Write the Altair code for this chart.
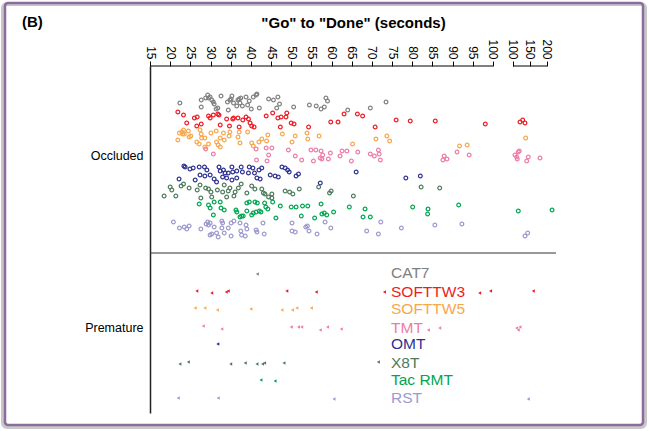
import altair as alt
import pandas as pd

# ---------------- data ----------------
categories = ["CAT7", "SOFTTW3", "SOFTTW5", "TMT", "OMT", "X8T", "Tac RMT", "RST"]
colors = ["#808080", "#ed1c24", "#f9a64c", "#ec7ca8", "#2e3192", "#4e7b5c", "#00a651", "#9d99cf"]

# vertical lane centres of each category (0 = top of plot, 347 = bottom)
occ_lane = [35, 52, 72, 86, 107, 124, 141, 162]
pre_lane = [207, 226, 243, 262, 278, 297, 314, 332]
separator_lane = 187
section_labels = ["Occluded", "Premature"]
section_label_lane = [89, 261]

# (seconds, vertical jitter) for "Occluded" trials
occ_cat7 = [(22.4,2),(27.7,-1),(27.7,6),(28.8,-3),(29.3,-6),(29.5,-3),(29.9,-4),(30.3,-1),(30.7,1),(31.4,8),
            (31.8,7),(32.6,-5),(34.2,1),(34.4,9),(34.8,-1),(35.3,-5),(35.7,2),(36.5,5),(36.8,-1),(37.1,-2),
            (37.3,2),(37.9,5),(38.8,-4),(39.2,4),(40.1,8),(40.6,-4),(41.3,-6),(42.1,7),(44.4,-2),(45.6,-1),
            (46.4,7),(46.7,-4),(47.1,3),(50.6,6),(54.5,4),(56.2,5),(57.4,8),(58.2,6),(58.6,-3),(59.0,0),
            (64.0,9),(69.6,7),(73.5,1),(30.9,3),(35.1,-2),(37.5,-3),(39.6,0),(41.5,-7)]
occ_softtw3 = [(21.9,-6),(23.3,-3),(24.1,5),(26.0,0),(26.7,-1),(26.6,8),(27.7,6),(29.5,-2),(29.9,0),(30.7,-3),
               (31.8,-4),(32.1,-3),(32.4,7),(34.0,1),(34.7,8),(35.5,1),(35.7,0),(36.8,0),(37.1,9),(38.0,2),
               (38.8,-1),(39.4,1),(39.8,5),(40.2,8),(40.8,9),(43.8,-2),(45.4,-5),(46.7,0),(47.3,9),(47.5,-1),
               (48.7,-1),(48.9,-5),(50.0,5),(50.7,6),(54.3,9),(59.8,4),(61.6,4),(63.1,-4),(66.4,-4),(67.7,-2),
               (70.8,9),(76.0,2),(79.5,3),(85.7,3),(98.1,6),(120.6,4),(128.5,2),(135.3,5)]
occ_softtw5 = [(21.9,2),(22.3,-5),(22.9,-6),(23.3,-8),(23.1,-4),(23.5,-4),(24.5,-7),(25.1,-2),(24.7,-1),(26.6,4),
               (27.4,-8),(27.7,-4),(27.2,6),(27.8,0),(28.6,0),(28.6,9),(29.5,6),(30.1,-5),(31.4,-7),(31.5,4),
               (31.9,7),(32.4,0),(32.4,9),(33.4,2),(33.2,-5),(34.6,-2),(34.8,-6),(36.8,-1),(37.1,-6),(37.3,5),
               (39.2,-6),(40.2,5),(40.6,8),(42.0,4),(42.7,1),(44.2,-3),(43.9,3),(47.8,-4),(50.2,4),(51.0,-2),
               (53.9,-5),(54.1,1),(56.9,-2),(65.2,6),(71.0,1),(73.7,-2),(74.4,3),(91.7,8),(93.6,7),(137.4,0)]
occ_tmt = [(28.8,-3),(30.7,2),(41.3,-3),(41.4,8),(43.8,-4),(45.2,-4),(44.4,3),(44.0,9),(49.3,-2),(51.0,4),
           (52.6,8),(54.9,-2),(56.1,-2),(57.4,-1),(57.8,3),(57.2,6),(57.6,7),(59.2,7),(59.7,1),(55.5,9),
           (62.6,-1),(63.8,-1),(62.1,4),(64.9,9),(66.5,0),(69.6,2),(70.6,4),(71.6,-2),(71.8,2),(72.1,8),
           (87.9,4),(88.6,7),(87.6,8),(91.1,0),(94.1,3),(105.9,3),(110.9,5),(115.6,0),(118.5,-1),(112.6,7),
           (140.3,9),(145.0,5),(179.4,6)]
occ_omt = [(23.4,-7),(23.7,-6),(24.9,-4),(25.7,-5),(27.2,-6),(28.5,-6),(29.1,-3),(27.4,2),(28.6,3),(29.9,2),
           (22.2,6),(26.2,7),(30.9,6),(31.5,9),(32.1,-6),(32.4,-2),(33.2,-3),(33.6,0),(34.4,0),(35.3,-6),
           (35.5,-1),(36.5,-2),(37.6,-6),(37.9,-1),(33.0,4),(34.0,5),(35.3,7),(36.5,5),(39.4,0),(39.6,-6),
           (40.5,-5),(40.9,0),(41.5,5),(42.3,6),(42.0,-3),(42.7,-5),(44.8,2),(46.0,3),(46.8,4),(47.7,-6),
           (48.5,-5),(49.1,-3),(49.5,-1),(51.2,3),(51.8,1),(57.2,10),(66.1,-1),(78.4,5),(82.0,3)]
occ_x8t = [(18.5,6),(20.0,-3),(20.4,0),(21.4,6),(22.7,-4),(23.3,-6),(24.7,-2),(26.7,0),(27.4,-5),(27.6,8),
           (28.8,-2),(29.5,-1),(30.1,2),(30.3,7),(31.7,0),(33.0,2),(33.4,-5),(34.0,7),(34.4,1),(34.8,-2),
           (35.8,6),(36.1,2),(36.9,-2),(37.6,-6),(39.0,3),(40.2,-4),(41.0,-1),(42.7,-1),(43.1,3),(43.5,4),
           (44.4,7),(45.2,8),(45.2,4),(48.5,1),(49.6,2),(50.4,4),(52.0,-1),(56.8,-3),(59.5,3),(59.9,1),
           (65.4,6),(82.2,-3),(86.8,-2)]
occ_tacrmt = [(27.2,-3),(29.5,-2),(29.9,1),(30.7,8),(30.9,-5),(32.4,-5),(32.6,1),(33.4,3),(36.3,3),(36.5,5),
              (37.3,10),(37.7,9),(38.1,9),(39.0,-4),(39.0,4),(39.6,-5),(40.2,8),(40.6,6),(41.0,-5),(41.3,5),
              (41.6,-4),(42.1,4),(42.5,5),(43.4,-4),(43.7,0),(44.2,2),(45.4,-5),(46.2,11),(47.3,-1),(50.0,0),
              (51.2,0),(52.5,9),(52.8,-1),(54.1,-1),(55.8,11),(57.4,-3),(57.6,7),(58.2,6),(58.8,8),(60.5,5),
              (64.4,0),(67.8,10),(68.3,2),(69.6,10),(80.1,0),(83.9,2),(83.8,7),(91.5,-2),(115.6,4),(215.0,3)]
occ_rst = [(20.8,-6),(22.3,0),(23.5,-1),(24.1,1),(24.7,-2),(27.6,1),(28.9,-4),(29.3,-6),(29.5,-3),(29.9,-5),
           (29.9,7),(30.3,6),(30.9,-1),(31.5,5),(31.9,9),(32.8,-7),(33.0,-5),(32.8,0),(33.4,5),(34.4,0),
           (35.1,-5),(35.1,8),(35.8,-7),(37.3,-5),(37.5,3),(37.7,7),(38.6,8),(38.8,-3),(39.0,1),(41.3,2),
           (41.5,4),(43.3,6),(43.0,-5),(50.2,-5),(50.2,3),(51.0,4),(53.6,-1),(54.0,-2),(54.4,3),(56.4,6),
           (58.4,-6),(59.8,0),(68.7,3),(71.6,6),(72.2,-6),(77.3,0),(85.6,-3),(92.3,-4),(135.3,8),(143.2,5)]

# (seconds, vertical jitter) for "Premature" trials
pre_cat7 = [(41.6,1)]
pre_softtw3 = [(26.6,-1),(30.3,1),(33.9,0),(34.4,-1),(48.9,-1),(56.2,0),(73.1,0),(96.7,1),(99.4,-1),(159.7,-1)]
pre_softtw5 = [(26.2,-1),(28.6,-1),(31.7,1),(40.0,0),(47.7,1),(50.3,1),(51.4,-1),(55.0,-1)]
pre_tmt = [(28.2,-2),(32.8,1),(50.0,-1),(51.8,-1),(52.6,-1),(57.2,2),(59.0,-1),(62.4,1),(84.0,2),(86.8,0),
           (110.9,0),(115.6,2),(120.6,-1)]
pre_omt = [(31.8,0)]
pre_x8t = [(22.4,1),(24.5,-1),(35.0,1),(38.6,0),(41.5,1),(42.9,1),(43.4,0),(48.2,0),(71.6,-1)]
pre_tacrmt = [(42.5,0),(46.0,1)]
pre_rst = [(22.0,0),(31.9,0),(60.6,1),(145.0,1)]

x_ticks_low = [15, 20, 25, 30, 35, 40, 45, 50, 55, 60, 65, 70, 75, 80, 85, 90, 95, 100]
x_ticks_high = [100, 150, 200]

occ_sets = [occ_cat7, occ_softtw3, occ_softtw5, occ_tmt, occ_omt, occ_x8t, occ_tacrmt, occ_rst]
pre_sets = [pre_cat7, pre_softtw3, pre_softtw5, pre_tmt, pre_omt, pre_x8t, pre_tacrmt, pre_rst]


def build(sets, lanes):
    rows = []
    for cat, pts, lane in zip(categories, sets, lanes):
        for s, j in pts:
            rows.append({"cat": cat, "sec": s, "center": lane, "jit": j})
    return pd.DataFrame(rows)


df_occ = build(occ_sets, occ_lane)
df_pre = build(pre_sets, pre_lane)
df_legend = pd.DataFrame({"cat": categories, "lane": pre_lane})
df_segments = pd.DataFrame({
    "hi": [0, 1],
    "sec": [x_ticks_low[0], x_ticks_high[0]],
    "sec2": [x_ticks_low[-1], x_ticks_high[-1]],
})
df_sep = pd.DataFrame({"lane": [separator_lane]})

# ---------------- broken axis mapping ----------------
GAP = 4.96      # width of the break, in low-segment units
K = 0.08426     # compression of the 100-200 segment
def brk(field):
    return f"datum.{field} <= 100 ? datum.{field} : {100 + GAP} + (datum.{field} - 100) * {K}"

def brk_seg(field):
    return f"datum.hi == 1 ? {100 + GAP} + (datum.{field} - 100) * {K} : datum.{field}"

tick_vals = x_ticks_low + [100 + GAP + (v - 100) * K for v in x_ticks_high]
label_expr = (f"datum.value <= 100.001 ? format(datum.value, 'd') : "
              f"format(100 + (datum.value - {100 + GAP}) / {K}, 'd')")

FONT = "Liberation Sans"
W, H = 406, 347

xscale = alt.Scale(domain=[15, 115.62], nice=False, zero=False)
yscale = alt.Scale(domain=[0, H], reverse=True, nice=False, zero=False)
cscale = alt.Scale(domain=categories, range=colors)

xaxis = alt.Axis(orient="top", values=tick_vals, labelExpr=label_expr, labelAngle=90,
                 labelAlign="right", labelBaseline="middle", labelFontSize=12, labelFont=FONT,
                 labelColor="#000", labelPadding=2, tickSize=5, tickColor="#000", domain=False,
                 grid=False, labelOverlap=False, labelBound=False, labelFlush=False,
                 title='"Go" to "Done" (seconds)', titleFont=FONT, titleFontSize=15,
                 titleFontWeight="bold", titleColor="#000", titleY=-44, titleX=W / 2,
                 titleBaseline="middle", titleAlign="center")
label_map = " : ".join([f"datum.value == {p} ? '{t}'" for p, t in zip(section_label_lane, section_labels)]) + " : ''"
yaxis = alt.Axis(values=section_label_lane, labelExpr=label_map, ticks=False, grid=False,
                 labelFontSize=12.5, labelFont=FONT, labelColor="#000", labelPadding=7,
                 domainColor="#222", domainWidth=1.5, title=None)

occ = alt.Chart(df_occ).transform_calculate(xp=brk("sec"), lane="datum.center + datum.jit").mark_point(
    shape="circle", filled=False, size=14, strokeWidth=1.2, opacity=1
).encode(
    x=alt.X("xp:Q", scale=xscale, axis=xaxis),
    y=alt.Y("lane:Q", scale=yscale, axis=yaxis),
    color=alt.Color("cat:N", scale=cscale, legend=None),
)

pre = alt.Chart(df_pre).transform_calculate(xp=brk("sec"), lane="datum.center + datum.jit").mark_point(
    shape="triangle-left", filled=True, size=12, opacity=1
).encode(
    x=alt.X("xp:Q", axis=None),
    y=alt.Y("lane:Q", axis=None),
    color=alt.Color("cat:N", scale=cscale, legend=None),
)

segments = alt.Chart(df_segments).transform_calculate(xp=brk_seg("sec"), xp2=brk_seg("sec2")).mark_rule(
    color="#000", strokeWidth=1
).encode(x=alt.X("xp:Q", axis=None), x2="xp2:Q", y=alt.value(0))

sep = alt.Chart(df_sep).mark_rule(color="#333", strokeWidth=1).encode(y=alt.Y("lane:Q", axis=None))

legend = alt.Chart(df_legend).mark_text(align="left", baseline="middle", fontSize=15.5, font=FONT).encode(
    x=alt.value(241), y=alt.Y("lane:Q", axis=None), text="cat:N",
    color=alt.Color("cat:N", scale=cscale, legend=None),
)

panel = alt.Chart(pd.DataFrame({"t": ["(B)"]})).mark_text(
    align="left", baseline="middle", fontSize=15, fontWeight="bold", font=FONT, color="#000"
).encode(x=alt.value(-128), y=alt.value(-44), text="t:N")

frame_shadow = alt.Chart(pd.DataFrame({"t": [0]})).mark_rect(
    fillOpacity=0, stroke="#c8c8c8", strokeWidth=4, cornerRadius=4
).encode(x=alt.value(-147), x2=alt.value(495), y=alt.value(-62), y2=alt.value(361))

frame = alt.Chart(pd.DataFrame({"t": [0]})).mark_rect(
    fillOpacity=0, stroke="#8d6b9c", strokeWidth=2.5, cornerRadius=3
).encode(x=alt.value(-145), x2=alt.value(493), y=alt.value(-63), y2=alt.value(359))

chart = alt.layer(occ, pre, segments, sep, legend, panel, frame_shadow, frame).resolve_axis(
    x="independent", y="independent"
).properties(
    width=W, height=H,
    autosize=alt.AutoSizeParams(type="none"),
    padding={"left": 150, "top": 66, "right": 93, "bottom": 18},
    background="#ffffff",
).configure_view(strokeWidth=0)

chart.save("out.html", embed_options={"renderer": "svg", "actions": False})
